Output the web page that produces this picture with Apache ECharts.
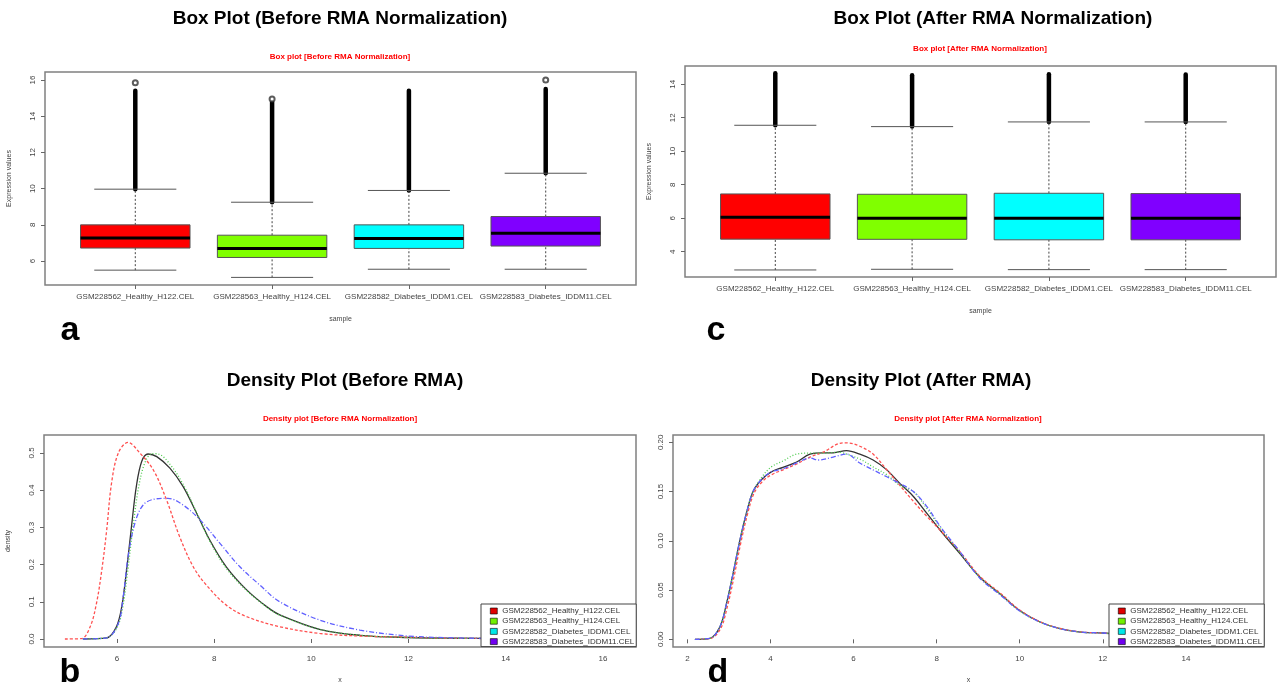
<!DOCTYPE html>
<html>
<head>
<meta charset="utf-8">
<title>RMA normalization box and density plots</title>
<script src="https://cdn.jsdelivr.net/npm/echarts@6/dist/echarts.min.js"></script>
<style>
  html, body { margin: 0; padding: 0; background: #fff; }
  #main { width: 1281px; height: 690px; }
</style>
</head>
<body>
<div id="main"></div>
<script>
// sample names, shared by every panel
var samples = ['GSM228562_Healthy_H122.CEL', 'GSM228563_Healthy_H124.CEL',
    'GSM228582_Diabetes_IDDM1.CEL', 'GSM228583_Diabetes_IDDM11.CEL'];
var boxColors = ['#ff0000', '#80ff00', '#00ffff', '#8000ff'];
var lineColors = ['#333333', '#ff5050', '#4ccc4c', '#6060ff'];

// box plots: [sample, lower whisker, Q1, median, Q3, upper whisker, top of outlier band]
var boxBefore = [
    [1, 5.50, 6.72, 7.27, 8.00, 9.97, 15.40],
    [2, 5.10, 6.20, 6.70, 7.43, 9.25, 14.75],
    [3, 5.55, 6.70, 7.25, 8.00, 9.90, 15.40],
    [4, 5.55, 6.83, 7.54, 8.46, 10.85, 15.50]
];
var farOutBefore = [[1, 15.85], [2, 14.95], [4, 16.0]];
var boxAfter = [
    [1, 2.91, 4.75, 6.06, 7.45, 11.55, 14.66],
    [2, 2.95, 4.74, 6.00, 7.43, 11.47, 14.54],
    [3, 2.93, 4.71, 6.00, 7.49, 11.75, 14.60],
    [4, 2.93, 4.71, 6.00, 7.47, 11.75, 14.58]
];

// density before RMA, [x, density]
var densBefore1 = [[5.3, 0], [5.79, 0.003], [5.99, 0.033], [6.10, 0.087], [6.20, 0.186], [6.30, 0.302],
    [6.40, 0.41], [6.51, 0.477], [6.64, 0.497], [6.82, 0.49], [7.09, 0.459], [7.36, 0.41], [7.64, 0.338],
    [7.91, 0.266], [8.25, 0.194], [8.67, 0.132], [9.08, 0.087], [9.35, 0.065], [10.17, 0.026], [11, 0.01],
    [12, 0.004], [13, 0.002], [14, 0.001], [15, 0.0005], [16, 0]];
var densBefore2 = [[4.93, 0], [5.27, 0.001], [5.45, 0.033], [5.58, 0.096], [5.69, 0.186], [5.79, 0.293],
    [5.89, 0.419], [6.03, 0.50], [6.23, 0.528], [6.47, 0.50], [6.75, 0.454], [7.02, 0.374], [7.29, 0.275],
    [7.57, 0.194], [7.84, 0.145], [8.25, 0.091], [8.67, 0.06], [9.35, 0.033], [10.17, 0.015], [11, 0.008],
    [12, 0.005], [13, 0.002], [14, 0.001], [15, 0.0005], [16, 0]];
var densBefore3 = [[5.3, 0], [5.79, 0.003], [6.0, 0.03], [6.12, 0.085], [6.22, 0.18], [6.33, 0.30],
    [6.45, 0.41], [6.58, 0.475], [6.72, 0.498], [6.85, 0.497], [7.1, 0.468], [7.36, 0.416], [7.64, 0.34],
    [7.91, 0.263], [8.25, 0.19], [8.67, 0.13], [9.08, 0.086], [9.35, 0.064], [10.17, 0.026], [11, 0.01],
    [12, 0.004], [13, 0.002], [14, 0.001], [15, 0.0005], [16, 0]];
var densBefore4 = [[5.3, 0], [5.79, 0.003], [6.03, 0.042], [6.13, 0.114], [6.23, 0.221], [6.37, 0.311],
    [6.54, 0.36], [6.78, 0.376], [7.05, 0.378], [7.36, 0.36], [7.71, 0.32], [8.12, 0.257], [8.53, 0.194],
    [8.94, 0.145], [9.35, 0.10], [10.17, 0.051], [11, 0.024], [12, 0.008], [13, 0.003], [14, 0.001],
    [15, 0.0005], [16.2, 0]];

// density after RMA
var densAfter1 = [[2.18, 0], [2.54, 0.001], [2.78, 0.0125], [2.94, 0.036], [3.10, 0.067], [3.26, 0.10],
    [3.42, 0.128], [3.58, 0.15], [3.78, 0.162], [4.02, 0.17], [4.30, 0.1746], [4.63, 0.180], [4.95, 0.188],
    [5.27, 0.1893], [5.51, 0.1893], [5.83, 0.1915], [6.15, 0.188], [6.47, 0.182], [6.80, 0.172], [7.12, 0.158],
    [7.44, 0.145], [7.76, 0.128], [8.08, 0.111], [8.56, 0.087], [9.04, 0.063], [9.53, 0.046], [9.99, 0.0295],
    [10.49, 0.0176], [10.97, 0.0109], [11.46, 0.0074], [12.0, 0.0064], [12.5, 0.005], [13.5, 0.002],
    [14.5, 0.0005], [15.0, 0]];
var densAfter2 = [[2.2, 0], [2.56, 0.001], [2.80, 0.011], [2.96, 0.033], [3.12, 0.063], [3.28, 0.097],
    [3.44, 0.126], [3.60, 0.148], [3.80, 0.16], [4.02, 0.167], [4.30, 0.172], [4.63, 0.178], [4.95, 0.185],
    [5.27, 0.190], [5.67, 0.199], [5.83, 0.1995], [6.15, 0.196], [6.47, 0.188], [6.80, 0.172], [7.12, 0.156],
    [7.44, 0.140], [7.76, 0.125], [8.08, 0.111], [8.56, 0.089], [9.04, 0.064], [9.53, 0.047], [9.99, 0.030],
    [10.49, 0.0178], [10.97, 0.011], [11.46, 0.0075], [12.0, 0.0064], [12.5, 0.005], [13.5, 0.002],
    [14.5, 0.0005], [15.0, 0]];
var densAfter3 = [[2.18, 0], [2.54, 0.001], [2.78, 0.0125], [2.94, 0.036], [3.10, 0.067], [3.26, 0.10],
    [3.42, 0.128], [3.58, 0.15], [3.78, 0.164], [4.02, 0.175], [4.30, 0.181], [4.63, 0.188], [4.95, 0.189],
    [5.27, 0.189], [5.67, 0.190], [5.83, 0.188], [6.15, 0.183], [6.47, 0.175], [6.80, 0.167], [7.12, 0.156],
    [7.44, 0.150], [7.76, 0.133], [8.08, 0.114], [8.56, 0.088], [9.04, 0.063], [9.53, 0.046], [9.99, 0.029],
    [10.49, 0.0174], [10.97, 0.0108], [11.46, 0.0073], [12.0, 0.0063], [12.5, 0.005], [13.5, 0.002],
    [14.5, 0.0005], [15.0, 0]];
var densAfter4 = [[2.18, 0], [2.54, 0.001], [2.78, 0.0125], [2.94, 0.036], [3.10, 0.067], [3.26, 0.10],
    [3.42, 0.128], [3.58, 0.15], [3.78, 0.162], [4.02, 0.170], [4.30, 0.173], [4.63, 0.179], [4.95, 0.184],
    [5.15, 0.182], [5.51, 0.185], [5.83, 0.188], [6.15, 0.179], [6.47, 0.172], [6.80, 0.165], [7.12, 0.158],
    [7.44, 0.150], [7.76, 0.135], [8.08, 0.115], [8.56, 0.089], [9.04, 0.062], [9.53, 0.045], [9.99, 0.029],
    [10.49, 0.0175], [10.97, 0.0108], [11.46, 0.0074], [12.0, 0.0064], [12.5, 0.005], [13.5, 0.002],
    [14.5, 0.0005], [15.0, 0]];

// tick labels
var boxTicksBefore = [6, 8, 10, 12, 14, 16];
var boxTicksAfter = [4, 6, 8, 10, 12, 14];
var densXTicksBefore = [6, 8, 10, 12, 14, 16];
var densYTicksBefore = [0, 0.1, 0.2, 0.3, 0.4, 0.5];
var densXTicksAfter = [2, 4, 6, 8, 10, 12, 14];
var densYTicksAfter = [0, 0.05, 0.1, 0.15, 0.2];

var FONT = '"Liberation Sans", Arial, sans-serif';
var chart = echarts.init(document.getElementById('main'));

function boxRender(params, api) {
    var x = api.value(0);
    var lw = api.value(1), q1 = api.value(2), md = api.value(3), q3 = api.value(4), uw = api.value(5), top = api.value(6);
    var c = function (dx, v) { return api.coord([x + dx, v]); };
    var fill = boxColors[params.dataIndex];
    var seg = function (a, b, style) {
        return { type: 'line', shape: { x1: a[0], y1: a[1], x2: b[0], y2: b[1] }, style: style };
    };
    var dash = { stroke: '#444', lineWidth: 1, lineDash: [2, 2] };
    var cap = { stroke: '#555', lineWidth: 1 };
    var p1 = c(-0.4, q3), p2 = c(0.4, q1);
    return {
        type: 'group',
        children: [
            seg(c(0, uw), c(0, top), { stroke: '#000', lineWidth: 4.5, lineCap: 'round' }),
            seg(c(0, q3), c(0, uw), dash),
            seg(c(0, lw), c(0, q1), dash),
            seg(c(-0.3, uw), c(0.3, uw), cap),
            seg(c(-0.3, lw), c(0.3, lw), cap),
            { type: 'rect', shape: { x: p1[0], y: p1[1], width: p2[0] - p1[0], height: p2[1] - p1[1] },
              style: { fill: fill, stroke: '#555', lineWidth: 1 } },
            seg(c(-0.4, md), c(0.4, md), { stroke: '#000', lineWidth: 3 })
        ]
    };
}

function valAxis(grid, min, max, ticks, fmt, opts, rot) {
    var o = {
        type: 'value', gridIndex: grid, min: min, max: max,
        splitLine: { show: false },
        axisLine: { show: false },
        axisTick: { show: true, customValues: ticks, length: 4, lineStyle: { color: '#666' } },
        axisLabel: { customValues: ticks, formatter: fmt, fontSize: 8, color: '#444', fontFamily: FONT,
                     margin: 8, rotate: rot || 0 },
        nameTextStyle: { fontSize: 7, color: '#444', fontFamily: FONT }
    };
    for (var k in opts) { o[k] = opts[k]; }
    return o;
}

function gridBox(l, t, w, h) {
    return { left: l, top: t, width: w, height: h, show: true, borderColor: '#808080', borderWidth: 1.5, backgroundColor: 'transparent' };
}

function txt(s, x, y, size, color, weight) {
    return {
        type: 'text', x: x, y: y,
        style: { text: s, font: (weight || 'normal') + ' ' + size + 'px ' + FONT, fill: color,
                 align: 'center', verticalAlign: 'middle', textAlign: 'center', textVerticalAlign: 'middle' }
    };
}

var legendColors = ['#e00000', '#70f000', '#00e8e8', '#7000f0'];
function legendBox(left) {
    return {
        data: samples.map(function (s, i) {
            return { name: s, icon: 'rect', itemStyle: { color: legendColors[i], borderColor: '#000', borderWidth: 0.6 } };
        }),
        orient: 'vertical', left: left, top: 604, itemWidth: 7, itemHeight: 6, itemGap: 2.2,
        padding: [3, 2, 1, 9], borderColor: '#444', borderWidth: 1, backgroundColor: '#fff',
        selectedMode: false,
        textStyle: { fontSize: 8, color: '#333', fontFamily: FONT, padding: [0, 0, 0, 0] }
    };
}

function densSeries(name, data, xi, color, dash) {
    return {
        type: 'line', name: name, data: data, xAxisIndex: xi, yAxisIndex: xi,
        showSymbol: false, smooth: 0.35, z: 3,
        lineStyle: { color: color, width: 1.3, type: dash }
    };
}

var sampleFmt = function (v) { return samples[Math.round(v) - 1]; };
var fmt0 = function (v) { return String(Math.round(v)); };

chart.setOption({
    animation: false,
    backgroundColor: '#fff',
    grid: [
        gridBox(45, 72, 591, 213),
        gridBox(685, 66, 591, 211),
        gridBox(44, 435, 592, 212),
        gridBox(673, 435, 591, 212)
    ],
    xAxis: [
        valAxis(0, 0.34, 4.66, [1, 2, 3, 4], sampleFmt, { name: 'sample', nameLocation: 'middle', nameGap: 31 }),
        valAxis(1, 0.34, 4.66, [1, 2, 3, 4], sampleFmt, { name: 'sample', nameLocation: 'middle', nameGap: 31 }),
        valAxis(2, 4.5, 16.68, densXTicksBefore, fmt0, { name: 'x', nameLocation: 'middle', nameGap: 30 }),
        valAxis(3, 1.653, 15.88, densXTicksAfter, fmt0, { name: 'x', nameLocation: 'middle', nameGap: 30 })
    ],
    yAxis: [
        valAxis(0, 4.68, 16.44, boxTicksBefore, fmt0, { name: 'Expression values', nameLocation: 'middle', nameGap: 32 }, 90),
        valAxis(1, 2.49, 15.09, boxTicksAfter, fmt0, { name: 'Expression values', nameLocation: 'middle', nameGap: 32 }, 90),
        valAxis(2, -0.0215, 0.548, densYTicksBefore, function (v) { return v.toFixed(1); },
            { name: 'density', nameLocation: 'middle', nameGap: 32 }, 90),
        valAxis(3, -0.0078, 0.2074, densYTicksAfter, function (v) { return v.toFixed(2); }, {}, 90)
    ],
    legend: [legendBox(481), legendBox(1109)],
    series: [
        { type: 'custom', renderItem: boxRender, data: boxBefore, xAxisIndex: 0, yAxisIndex: 0,
          encode: { x: 0, y: [1, 2, 3, 4, 5, 6] }, z: 2 },
        { type: 'scatter', data: farOutBefore, xAxisIndex: 0, yAxisIndex: 0, symbol: 'emptyCircle', symbolSize: 5,
          itemStyle: { color: '#333', borderWidth: 1 }, z: 3 },
        { type: 'custom', renderItem: boxRender, data: boxAfter, xAxisIndex: 1, yAxisIndex: 1,
          encode: { x: 0, y: [1, 2, 3, 4, 5, 6] }, z: 2 },
        densSeries(samples[0], densBefore1, 2, lineColors[0], 'solid'),
        densSeries(samples[1], densBefore2, 2, lineColors[1], [3, 2]),
        densSeries(samples[2], densBefore3, 2, lineColors[2], [1, 2]),
        densSeries(samples[3], densBefore4, 2, lineColors[3], [5, 2, 1, 2]),
        densSeries(samples[0], densAfter1, 3, lineColors[0], 'solid'),
        densSeries(samples[1], densAfter2, 3, lineColors[1], [3, 2]),
        densSeries(samples[2], densAfter3, 3, lineColors[2], [1, 2]),
        densSeries(samples[3], densAfter4, 3, lineColors[3], [5, 2, 1, 2])
    ],
    graphic: [
        txt('Box Plot (Before RMA Normalization)', 340, 19, 19, '#000', 'bold'),
        txt('Box Plot (After RMA Normalization)', 993, 19, 19, '#000', 'bold'),
        txt('Density Plot (Before RMA)', 345, 381, 19, '#000', 'bold'),
        txt('Density Plot (After RMA)', 921, 381, 19, '#000', 'bold'),
        txt('Box plot [Before RMA Normalization]', 340, 57, 8, '#ff0000', 'bold'),
        txt('Box plot [After RMA Normalization]', 980, 49, 8, '#ff0000', 'bold'),
        txt('Density plot [Before RMA Normalization]', 340, 419, 8, '#ff0000', 'bold'),
        txt('Density plot [After RMA Normalization]', 968, 419, 8, '#ff0000', 'bold'),
        txt('a', 70, 331, 34, '#000', 'bold'),
        txt('c', 716, 331, 34, '#000', 'bold'),
        txt('b', 70, 673, 34, '#000', 'bold'),
        txt('d', 718, 673, 34, '#000', 'bold')
    ]
});
</script>
</body>
</html>
